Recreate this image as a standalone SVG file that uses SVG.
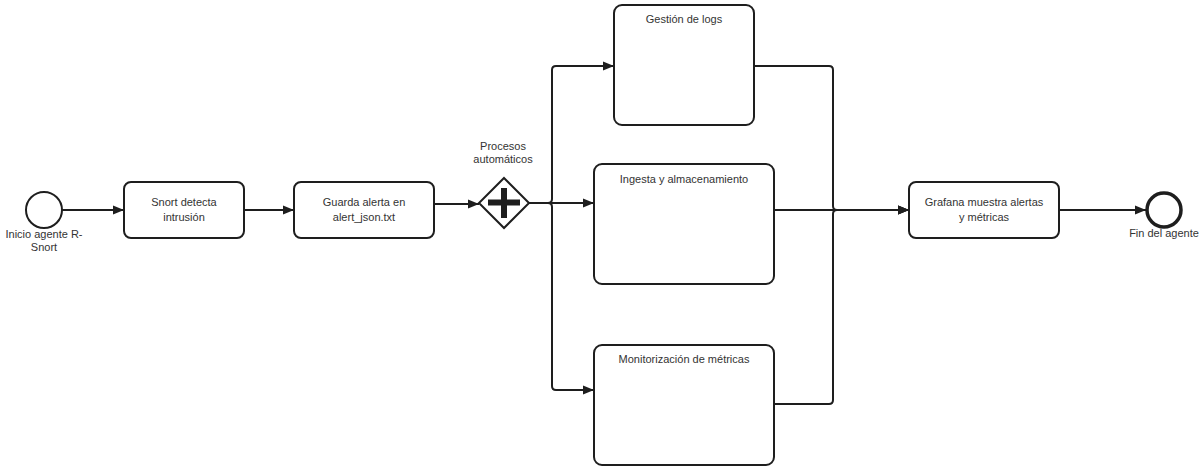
<svg xmlns="http://www.w3.org/2000/svg" width="1204" height="470" viewBox="0 0 1204 470">
<style>
  .task { fill: #ffffff; stroke: #1e1e1e; stroke-width: 2; }
  .ev { fill: #ffffff; stroke: #1e1e1e; stroke-width: 2; }
  .end { fill: #ffffff; stroke: #1e1e1e; stroke-width: 3.5; }
  .lbl { font-family: "Liberation Sans", Arial, sans-serif; font-size: 11px; fill: #333333; text-anchor: middle; }
  .edge { fill: none; stroke: #1e1e1e; stroke-width: 2; stroke-linejoin: round; }
</style>
<defs>
  <marker id="arr" viewBox="0 0 11 10" refX="11" refY="5" markerWidth="11" markerHeight="10" markerUnits="userSpaceOnUse" orient="auto">
    <path d="M0,0.5 L11,5 L0,9.5 z" fill="#1e1e1e"/>
  </marker>
</defs>
<rect width="1204" height="470" fill="#ffffff"/>
<g id="connectors">
  <path class="edge" d="M62,210 H124" marker-end="url(#arr)"/>
  <path class="edge" d="M244,210 H294" marker-end="url(#arr)"/>
  <path class="edge" d="M434,204 H479" marker-end="url(#arr)"/>
  <path class="edge" d="M529,203 H548 Q552,203 552,199 V70 Q552,66 556,66 H614" marker-end="url(#arr)"/>
  <path class="edge" d="M529,203 H594" marker-end="url(#arr)"/>
  <path class="edge" d="M529,203 H548 Q552,203 552,207 V386 Q552,390 556,390 H594" marker-end="url(#arr)"/>
  <path class="edge" d="M754,66 H829 Q833,66 833,70 V206 Q833,210 837,210 H909" marker-end="url(#arr)"/>
  <path class="edge" d="M774,210 H909" marker-end="url(#arr)"/>
  <path class="edge" d="M774,404 H829 Q833,404 833,400 V214 Q833,210 837,210 H909" marker-end="url(#arr)"/>
  <path class="edge" d="M1059,210 H1146" marker-end="url(#arr)"/>
</g>
<g id="start">
  <circle class="ev" cx="44" cy="210" r="18"/>
  <text class="lbl" x="44" y="238">Inicio agente R-</text>
  <text class="lbl" x="44" y="251">Snort</text>
</g>
<g id="snort">
  <rect class="task" x="124" y="182" width="120" height="56" rx="7"/>
  <text class="lbl" x="184" y="206">Snort detecta</text>
  <text class="lbl" x="184" y="221">intrusión</text>
</g>
<g id="guarda">
  <rect class="task" x="294" y="182" width="140" height="56" rx="7"/>
  <text class="lbl" x="364" y="206">Guarda alerta en</text>
  <text class="lbl" x="364" y="221">alert_json.txt</text>
</g>
<g id="gateway">
  <path class="task" d="M504,178 L529,203 L504,228 L479,203 z"/>
  <rect x="488" y="199.5" width="32" height="6" fill="#1e1e1e"/>
  <rect x="501" y="188" width="6" height="30" fill="#1e1e1e"/>
  <text class="lbl" x="503" y="150">Procesos</text>
  <text class="lbl" x="503" y="163">automáticos</text>
</g>
<g id="gestion">
  <rect class="task" x="614" y="5" width="140" height="120" rx="8"/>
  <text class="lbl" x="684" y="23">Gestión de logs</text>
</g>
<g id="ingesta">
  <rect class="task" x="594" y="164" width="180" height="120" rx="8"/>
  <text class="lbl" x="684" y="183">Ingesta y almacenamiento</text>
</g>
<g id="monitorizacion">
  <rect class="task" x="594" y="345" width="180" height="120" rx="8"/>
  <text class="lbl" x="684" y="363">Monitorización de métricas</text>
</g>
<g id="grafana">
  <rect class="task" x="909" y="182" width="150" height="56" rx="7"/>
  <text class="lbl" x="984" y="206">Grafana muestra alertas</text>
  <text class="lbl" x="984" y="221">y métricas</text>
</g>
<g id="end">
  <circle class="end" cx="1164" cy="210" r="17"/>
  <text class="lbl" x="1164" y="237">Fin del agente</text>
</g>
</svg>
